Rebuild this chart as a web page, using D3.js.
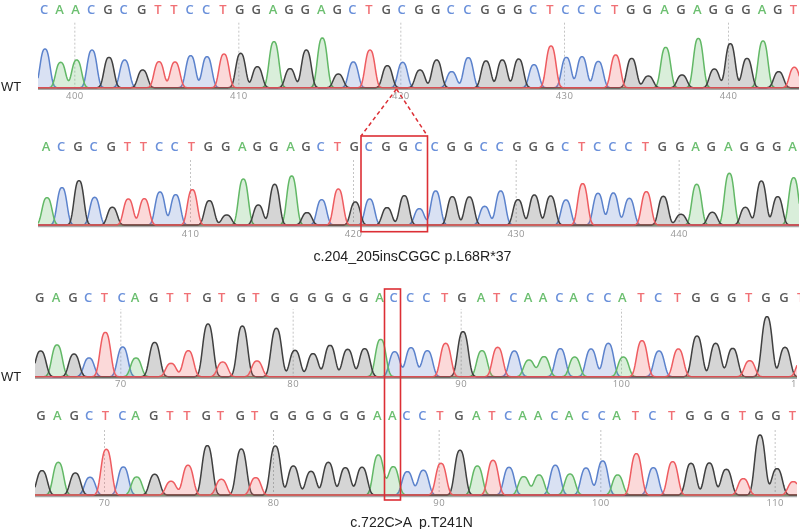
<!DOCTYPE html>
<html><head><meta charset="utf-8">
<script src="https://cdn.jsdelivr.net/npm/d3@7"></script>
<style>html,body{margin:0;padding:0;background:#fff}svg{display:block}</style>
</head><body><svg id="c" width="800" height="529"></svg>
<script>
// Base calls, peak locations (in scan units) and peak signal for each trace
const basesA = "CAACGCGTTCCTGGAGGAGCTGCGGCCGGGCTCCCTGGAGAGGGAGT".split("");
const firstA = 398;
const plocA = [135,182,230,276,327,374,428,477,525,572,621,672,722,772,822,870,919,967,1015,1060,1110,1162,1208,1260,1310,1355,1405,1458,1507,1556,1602,1653,1699,1746,1795,1847,1895,1945,1997,2046,2095,2143,2191,2241,2289,2336,2383];
const signalA = [116,76,83,113,91,83,53,78,77,96,93,101,103,63,138,57,113,149,41,77,113,66,76,53,83,48,90,80,83,86,69,125,91,93,79,98,88,35,121,38,148,56,132,88,140,48,61];

const basesB = "ACGCGTTCCTGGAGGAGCTGCGGCCGGCCGGGCTCCCTGGAGAGGGA".slice(0,22).split("").concat("GCCGGCCGGGCTCCCTGGAGAGGGA".split(""));
const firstB = 401;
const plocB = [141,186,237,284,337,385,433,480,527,577,628,680,730,775,824,875,921,965,1015,1066,1109,1161,1213,1258,1307,1357,1408,1454,1502,1554,1603,1652,1698,1748,1794,1840,1888,1939,1990,2043,2090,2137,2188,2236,2284,2333,2381];
const signalB = [82,112,133,83,53,78,79,99,91,106,73,30,138,60,122,147,37,76,108,69,78,52,88,49,102,85,84,56,102,76,90,87,75,124,95,96,80,100,86,32,122,38,155,53,132,85,142];

const basesC = "GAGCTCAGTTGTGTGGGGGGACCCTGATCAACACCATCTGGGTGGT".split("");
const firstC = 65;
const plocC = [122,171,222,267,316,368,408,464,513,565,624,668,727,771,829,885,939,990,1043,1094,1142,1184,1233,1282,1337,1389,1446,1493,1543,1587,1632,1681,1724,1773,1825,1870,1926,1977,2035,2091,2147,2198,2249,2301,2355,2405];
const signalC = [77,95,68,56,133,89,56,103,40,78,158,44,152,47,145,79,69,94,82,84,112,75,87,78,100,135,78,88,77,50,60,84,59,83,100,59,108,77,83,122,100,85,48,180,88,50];

const basesD = "GAGCTCAGTTGTGTGGGGGGAACCTGATCAACACCATCTGGGTGGT".split("");
const firstD = 66;
const plocD = [126,175,226,270,319,370,410,464,513,564,622,664,724,767,826,880,933,985,1036,1086,1135,1180,1222,1270,1323,1380,1432,1479,1527,1571,1617,1666,1710,1758,1808,1853,1909,1960,2018,2073,2128,2179,2230,2280,2331,2380];
const signalD = [73,98,66,53,137,84,54,62,41,89,148,47,138,52,147,87,71,98,82,83,120,85,70,74,95,134,87,104,83,55,60,89,63,81,102,60,124,82,100,95,96,77,49,180,79,40];

const tickNumbersA = [400,410,420,430,440];
const tickNumbersB = [410,420,430,440];
const tickNumbersC = [70,80,90,100,110];
const tickNumbersD = [70,80,90,100,110];

const captions = ["c.204_205insCGGC p.L68R*37","c.722C>A  p.T241N"];
const sideLabel = "WT";

const traceColor = {A:"#62b866",C:"#5b82cc",G:"#3f3f3f",T:"#ee5c60"};
const letterColor = {A:"#6cbf70",C:"#6a90da",G:"#5a5a5a",T:"#f07074"};
const channelOrder = ["C","A","G","T"];

const panels = [
 {bases:basesA,first:firstA,ploc:plocA,signal:signalA,ticks:tickNumbersA,left:38,right:799,base:87.7,letterY:9,ruleTop:20,labelY:95.7,width:18.5},
 {bases:basesB,first:firstB,ploc:plocB,signal:signalB,ticks:tickNumbersB,left:38,right:799,base:225,letterY:146.7,ruleTop:157,labelY:233.7,width:18.5},
 {bases:basesC,first:firstC,ploc:plocC,signal:signalC,ticks:tickNumbersC,left:35,right:797,base:376.7,letterY:297.7,ruleTop:308,labelY:384,width:20},
 {bases:basesD,first:firstD,ploc:plocD,signal:signalD,ticks:tickNumbersD,left:35,right:797,base:495,letterY:415.7,ruleTop:427,labelY:502.7,width:20}
];

const svg = d3.select("#c");
const defs = svg.append("defs");
defs.append("filter").attr("id","soft").attr("x","-5%").attr("y","-5%").attr("width","110%").attr("height","110%")
  .append("feGaussianBlur").attr("stdDeviation",0.45);

const x = d3.scaleLinear().domain([0,2400]).range([0,800]);

panels.forEach((p,pi)=>{
  const y = d3.scaleLinear().domain([0,200]).range([p.base,p.base-200/3]);
  const clipId = "clip"+pi;
  defs.append("clipPath").attr("id",clipId).append("rect")
    .attr("x",p.left).attr("y",p.ruleTop-20).attr("width",p.right-p.left).attr("height",p.labelY-p.ruleTop+30);
  const g = svg.append("g").attr("filter","url(#soft)");

  // axis: ticks sit at the peak location of each numbered base
  const scanOf = n => p.ploc[n-p.first]-7;
  const scanToNum = new Map(p.ticks.map(n=>[scanOf(n),n]));
  const axis = d3.axisBottom(x).tickValues(p.ticks.map(scanOf))
    .tickFormat(v=>scanToNum.get(v)).tickSizeOuter(0).tickSizeInner(-(p.base-p.ruleTop));
  const ag = g.append("g").attr("clip-path",`url(#${clipId})`).append("g")
    .attr("transform",`translate(0,${p.base+1})`).call(axis);
  ag.select(".domain").attr("stroke","#a9a9a9").attr("stroke-width",1.5);
  ag.selectAll(".tick line").attr("stroke","#c4c4c4").attr("stroke-dasharray","2,2").attr("stroke-width",1);
  ag.selectAll(".tick text").attr("y",p.labelY-p.base-1).attr("dy","0.35em")
    .attr("fill","#969696").style("font-family","'Open Sans',sans-serif").style("font-size","9.5px").style("letter-spacing","0.4px");

  // trace channels: each peak is a bell of the read height at its peak location
  const tg = g.append("g").attr("clip-path",`url(#${clipId})`);
  const grid = d3.range(x.invert(p.left),x.invert(p.right)+2,2);
  const area = d3.area().x(d=>x(d[0])).y0(y(0)).y1(d=>y(d[1]));
  const line = d3.line().x(d=>x(d[0])).y(d=>y(d[1]));
  channelOrder.forEach(ch=>{
    const idx = p.bases.map((b,i)=>b===ch?i:-1).filter(i=>i>=0);
    const pts = grid.map(s=>[s,d3.sum(idx,i=>p.signal[i]*Math.exp(-Math.pow(Math.abs(s-p.ploc[i])/p.width,2.7)))]);
    tg.append("path").datum(pts).attr("d",area).attr("fill",traceColor[ch]).attr("fill-opacity",ch==="G"?0.22:0.24);
    tg.append("path").datum(pts).attr("d",line).attr("fill","none").attr("stroke",traceColor[ch]).attr("stroke-width",1.5);
  });
  tg.append("line").attr("x1",p.left).attr("x2",p.right).attr("y1",y(0)).attr("y2",y(0))
    .attr("stroke","#c9474c").attr("stroke-opacity",0.55).attr("stroke-width",1.2);

  // base letters
  g.append("g").selectAll("text").data(p.bases).join("text")
    .attr("x",(b,i)=>x(p.ploc[i]-3)).attr("y",p.letterY).attr("dy","0.36em").attr("text-anchor","middle")
    .attr("fill",b=>letterColor[b]).text(b=>b)
    .style("font-family","'Open Sans',sans-serif").style("font-size","13px").style("font-weight",600);
});

// annotations
const red = "#dc2f35";
const ann = svg.append("g");
const textStyle = s=>s.style("font-family","'Liberation Sans',Arial,sans-serif").attr("fill","#222");
[86,376].forEach(v=>ann.append("text").attr("x",1).attr("y",v).attr("dy","0.36em").text(sideLabel).style("font-size","13px").call(textStyle));
ann.append("text").attr("x",412.5).attr("y",256).attr("dy","0.36em").attr("text-anchor","middle").text(captions[0]).style("font-size","14.2px").call(textStyle);
ann.append("text").attr("x",411.5).attr("y",522).attr("dy","0.36em").attr("text-anchor","middle").style("white-space","pre").text(captions[1]).style("font-size","14px").call(textStyle);
ann.append("rect").attr("x",361).attr("y",136).attr("width",66.5).attr("height",95.7).attr("fill","none").attr("stroke",red).attr("stroke-width",1.6);
ann.append("rect").attr("x",384.5).attr("y",289).attr("width",16).attr("height",211).attr("fill","none").attr("stroke",red).attr("stroke-width",1.6);
[[361,136],[427.5,136]].forEach(e=>ann.append("line").attr("x1",396.5).attr("y1",89).attr("x2",e[0]).attr("y2",e[1]).attr("stroke",red).attr("stroke-width",1.5).attr("stroke-dasharray","4,3"));
</script></body></html>
